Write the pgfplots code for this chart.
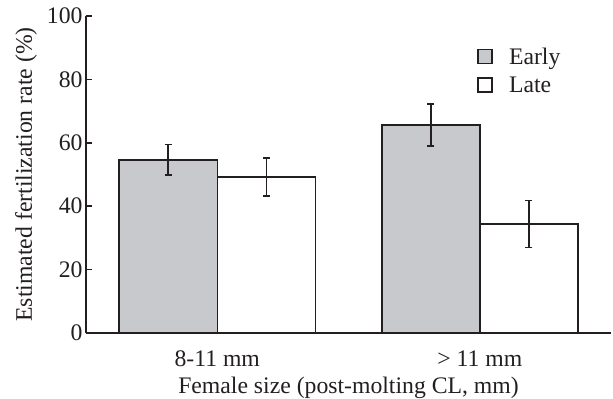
\documentclass[border=0pt]{standalone}
\usepackage{fontspec}
\setmainfont{Liberation Serif}
\usepackage{pgfplots}
\pgfplotsset{compat=1.18}
\definecolor{earlygray}{RGB}{200,201,204}
\definecolor{ink}{RGB}{35,31,32}
\begin{document}
\begin{tikzpicture}
\begin{axis}[
  scale only axis, width=525bp, height=317bp,
  xmin=-0.5, xmax=1.5, ymin=0, ymax=100,
  axis x line=bottom, axis y line=left,
  axis line style={-, line width=1.5bp, ink},
  every tick/.style={ink, line width=1.5bp},
  ytick={0,20,...,100}, tick align=inside, major tick length=6bp,
  xtick={0,1}, xticklabels={8-11 mm, > 11 mm},
  x tick style={draw=none},
  extra x ticks={0.5,1.5}, extra x tick labels={},
  extra x tick style={tick style={draw=ink, line width=1.5bp}, major tick length=5bp},
  /pgf/number format/assume math mode=true,
  tick label style={font=\fontsize{23.8}{28}\selectfont, text=ink},
  xticklabel style={yshift=-8bp},
  label style={font=\fontsize{23.8}{28}\selectfont, text=ink},
  xlabel={Female size (post-molting CL, mm)},
  ylabel={Estimated fertilization rate (\%)},
  xlabel style={at={(axis description cs:0.5,-0.1893)}, anchor=base},
  ylabel style={at={(axis description cs:-0.1029,0.5)}, anchor=base},
  ybar=0pt, bar width=98bp,
  legend style={draw=none, fill=none, at={(0.745,0.904)}, anchor=north west,
    inner sep=0pt, nodes={inner sep=1bp}, cells={anchor=west},
    font=\fontsize{23.8}{28}\selectfont, text=ink, row sep=9bp},
  legend image code/.code={\draw[#1, line width=1.5bp] (0bp,-7bp) rectangle (14bp,7bp);
    \path[draw=none, fill=none] (14bp,0bp) -- (30bp,0bp);},
  error bars/y dir=both, error bars/y explicit,
  error bars/error bar style={line width=1.5bp, ink},
  error bars/error mark options={rotate=90, mark size=3.5bp, line width=1.5bp, ink},
]
\coordinate (O) at (rel axis cs:0,0);
\addplot[fill=earlygray, draw=ink, line width=1.5bp] coordinates {
  (0,54.6) +- (0,4.8)
  (1,65.6) +- (0,6.6)
};
\addplot[fill=white, draw=ink, line width=1.5bp] coordinates {
  (0,49.2) +- (0,6.0)
  (1,34.4) +- (0,7.4)
};
\legend{Early, Late}
\end{axis}
\pgfresetboundingbox
\path[use as bounding box] (O) ++(-86bp,-66bp) rectangle ++(613bp,399bp);
\end{tikzpicture}
\end{document}
